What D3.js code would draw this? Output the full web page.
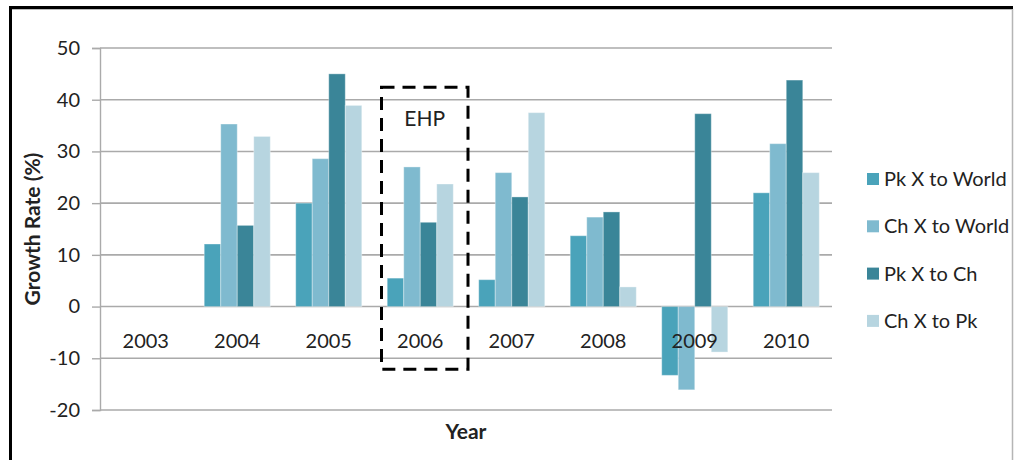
<!DOCTYPE html>
<html>
<head>
<meta charset="utf-8">
<script src="https://cdn.jsdelivr.net/npm/d3@7"></script>
<style>
  body{margin:0;background:#fff;}
  svg{display:block;font-family:Lato,"Open Sans",sans-serif;}
</style>
</head>
<body>
<svg id="chart" width="1014" height="460"></svg>
<script>
const years=["2003","2004","2005","2006","2007","2008","2009","2010"];
const series=["Pk X to World","Ch X to World","Pk X to Ch","Ch X to Pk"];
const colors=["#4aa3ba","#7fbacf","#3a8598","#b7d5e0"];
const pkToWorld=[0,12.1,20.0,5.5,5.2,13.7,-13.3,22.0];
const chToWorld=[0,35.3,28.6,27.0,25.9,17.3,-16.1,31.5];
const pkToCh=[0,15.7,45.0,16.3,21.2,18.3,37.3,43.8];
const chToPk=[0,32.9,38.9,23.7,37.5,3.8,-8.8,25.9];
const yTicks=[-20,-10,0,10,20,30,40,50];

const seriesValues=[pkToWorld,chToWorld,pkToCh,chToPk];
const rows=[];
years.forEach((yr,i)=>{
  series.forEach((s,j)=>rows.push({year:yr,series:s,value:seriesValues[j][i]}));
});

const svg=d3.select("#chart");
const m={top:48,right:182,bottom:50,left:100};
const w=1014,h=460;

// frame
svg.append("line").attr("x1",10).attr("x2",1013).attr("y1",7.5).attr("y2",7.5)
  .attr("stroke","#000").attr("stroke-width",3);
svg.append("line").attr("x1",10).attr("x2",1013).attr("y1",9.5).attr("y2",9.5)
  .attr("stroke","#bbb").attr("stroke-width",1);
svg.append("line").attr("x1",10.5).attr("x2",10.5).attr("y1",6).attr("y2",460)
  .attr("stroke","#000").attr("stroke-width",3);
svg.append("line").attr("x1",1012.5).attr("x2",1012.5).attr("y1",9).attr("y2",460)
  .attr("stroke","#b5b5b5").attr("stroke-width",1.5);

const x=d3.scaleBand().domain(years).range([m.left,w-m.right]);
const xs=d3.scaleBand().domain(series).range([0,x.bandwidth()]).paddingOuter(0.77);
const y=d3.scaleLinear().domain([-20,50]).range([h-m.bottom,m.top]);
const color=d3.scaleOrdinal().domain(series).range(colors);

// gridlines
svg.append("g").selectAll("line").data(yTicks).enter().append("line")
  .attr("x1",m.left).attr("x2",w-m.right)
  .attr("y1",d=>y(d)).attr("y2",d=>y(d))
  .attr("stroke","#aaa").attr("stroke-width",1.6);

// y axis
const ya=svg.append("g").attr("transform",`translate(${m.left},0)`)
  .call(d3.axisLeft(y).tickValues(yTicks).tickSize(8).tickPadding(12).tickFormat(d=>String(d)));
ya.select(".domain").attr("stroke","#aaa").attr("stroke-width",1.4);
ya.selectAll(".tick line").attr("stroke","#aaa").attr("stroke-width",1.4);
ya.selectAll("text").attr("font-size","20px").attr("fill","#222")
  .attr("font-family","Lato,sans-serif");

// bars
svg.append("g").selectAll("rect").data(rows).enter().append("rect")
  .attr("x",d=>x(d.year)+xs(d.series))
  .attr("width",xs.bandwidth())
  .attr("y",d=>y(Math.max(0,d.value)))
  .attr("height",d=>Math.abs(y(d.value)-y(0)))
  .attr("fill",d=>color(d.series))
  .attr("stroke","rgba(255,255,255,0.35)").attr("stroke-width",1);

// x labels (sit just below zero line)
svg.append("g").selectAll("text").data(years).enter().append("text")
  .attr("x",d=>x(d)+x.bandwidth()/2)
  .attr("y",y(0)+41)
  .attr("text-anchor","middle")
  .attr("font-size","20px").attr("fill","#222")
  .text(d=>d);

// EHP annotation box
const bx0=x("2006")+7,bx1=x("2006")+x.bandwidth()+2;
svg.append("rect")
  .attr("x",bx0).attr("y",y(42.4))
  .attr("width",bx1-bx0).attr("height",y(-12.1)-y(42.4))
  .attr("fill","none").attr("stroke","#000").attr("stroke-width",3)
  .attr("stroke-dasharray","13,8");
svg.append("text").attr("x",(bx0+bx1)/2).attr("y",y(35))
  .attr("text-anchor","middle").attr("font-size","21px").attr("fill","#222")
  .text("EHP");

// axis titles
svg.append("text").attr("transform",`translate(40,${(y(50)+y(-20))/2}) rotate(-90)`)
  .attr("text-anchor","middle").attr("font-size","21px").attr("font-weight","bold")
  .attr("fill","#222").text("Growth Rate (%)");
svg.append("text").attr("x",(m.left+w-m.right)/2).attr("y",439)
  .attr("text-anchor","middle").attr("font-size","21px").attr("font-weight","bold")
  .attr("fill","#222").text("Year");

// legend
const lg=svg.append("g").selectAll("g").data(series).enter().append("g")
  .attr("transform",(d,i)=>`translate(867,${179+i*47.3})`);
lg.append("rect").attr("x",0).attr("y",-6).attr("width",12).attr("height",12)
  .attr("fill",d=>color(d));
lg.append("text").attr("x",17).attr("y",7).attr("font-size","20px").attr("fill","#222")
  .text(d=>d);
</script>
</body>
</html>
